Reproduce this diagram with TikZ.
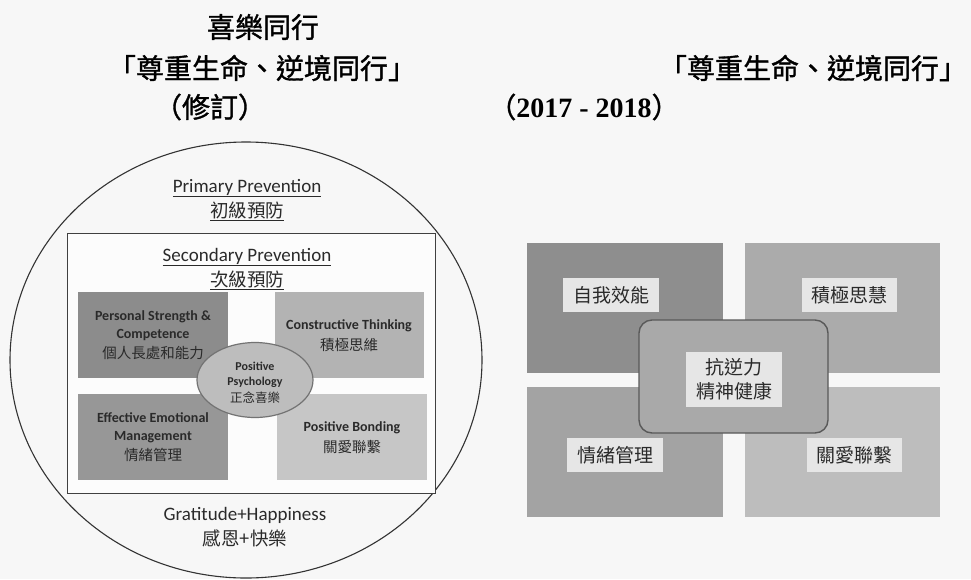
\documentclass[tikz,border=0pt]{standalone}
\usepackage{fontspec}
\setmainfont{Carlito}
\newfontfamily\cjk{Noto Sans CJK TC}
\newfontfamily\cjkb[FakeBold=1.2]{Noto Sans CJK TC}
\newfontfamily\yearfont{Liberation Serif}
\usetikzlibrary{shapes.geometric}
\definecolor{bgc}{HTML}{F7F7F7}
\definecolor{lTL}{HTML}{8C8C8C}
\definecolor{lBL}{HTML}{979797}
\definecolor{lTR}{HTML}{B3B3B3}
\definecolor{lBR}{HTML}{C6C6C6}
\definecolor{ellf}{HTML}{BDBDBD}
\definecolor{rTL}{HTML}{8E8E8E}
\definecolor{rTR}{HTML}{ABABAB}
\definecolor{rBL}{HTML}{A3A3A3}
\definecolor{rBR}{HTML}{BDBDBD}
\definecolor{rC}{HTML}{A9A9A9}
\definecolor{lab}{HTML}{E6E6E6}
\definecolor{txt}{HTML}{2A2A2A}
\tikzset{
  box/.style={rectangle, inner sep=0pt, minimum width=#1},
  title/.style={font=\cjkb\fontsize{28}{30}\selectfont, inner sep=0pt},
  eng/.style={font=\fontsize{19}{21}\selectfont, inner sep=0pt, text=txt},
  engc/.style={font=\cjk\fontsize{18.5}{20}\selectfont, inner sep=0pt, text=txt},
  bxe/.style={font=\bfseries\fontsize{14}{16}\selectfont, inner sep=0pt, text=txt},
  bxc/.style={font=\cjk\fontsize{14.5}{16}\selectfont, inner sep=0pt, text=txt},
  ele/.style={font=\bfseries\fontsize{12}{13}\selectfont, inner sep=0pt, text=txt},
  elc/.style={font=\cjk\fontsize{12.5}{13}\selectfont, inner sep=0pt, text=txt},
  rlab/.style={rectangle, fill=lab, inner sep=0pt, minimum width=96pt, minimum height=34pt, font=\cjk\fontsize{19}{22}\selectfont, text=txt},
}
\begin{document}
\begin{tikzpicture}[x=1pt,y=-1pt]
\fill[bgc] (0,0) rectangle (971,579);
\useasboundingbox (0,0) rectangle (971,579);
% titles
\node[title] (t1) at (263,27) {喜樂同行};
\node[title] (t2) at (262,68) {「尊重生命、逆境同行」};
\node[title] (t3) at (210,107) {（修訂）};
\node[title] (t4) at (813,68) {「尊重生命、逆境同行」};
\node[inner sep=0pt] (t5) at (584,107) {\cjkb\fontsize{28}{30}\selectfont （\yearfont\bfseries 2017 - 2018\cjkb\mdseries ）};
% left diagram
\node[ellipse, draw=black!80, line width=1.1pt, minimum width=472pt, minimum height=436pt, inner sep=0pt] (circ) at (246,360) {};
\node[rectangle, draw=black!75, line width=1pt, fill=white!60!bgc, minimum width=368pt, minimum height=260pt, inner sep=0pt] (inner) at (251,363) {};
\node[eng] (pp) at (247,188) {\underline{Primary Prevention}};
\node[engc] (ppc) at (247,211) {\underline{初級預防}};
\node[eng] (sp) at (247,257) {\underline{Secondary Prevention}};
\node[engc] (spc) at (247,280) {\underline{次級預防}};
\node[box=150pt, minimum height=86pt, fill=lTL] (ltl) at (153,335) {};
\node[box=149pt, minimum height=86pt, fill=lTR] (ltr) at (349.5,335) {};
\node[box=150pt, minimum height=86pt, fill=lBL] (lbl) at (153,437) {};
\node[box=150pt, minimum height=86pt, fill=lBR] (lbr) at (352,437) {};
\node[bxe] (a1) at (153,317) {Personal Strength \&};
\node[bxe] (a2) at (153,335) {Competence};
\node[bxc] (a3) at (153,353) {個人長處和能力};
\node[bxe] (b1) at (349,326) {Constructive Thinking};
\node[bxc] (b2) at (349,345) {積極思維};
\node[bxe] (c1) at (153,418) {Effective Emotional};
\node[bxe] (c2) at (153,437) {Management};
\node[bxc] (c3) at (153,455) {情緒管理};
\node[bxe] (d1) at (352,428) {Positive Bonding};
\node[bxc] (d2) at (352,447) {關愛聯繫};
\node[ellipse, draw=black!55, line width=1.2pt, fill=ellf, minimum width=116pt, minimum height=75pt, inner sep=0pt] (pe) at (255,380) {};
\node[ele] (e1) at (255,366) {Positive};
\node[ele] (e2) at (255,382) {Psychology};
\node[elc] (e3) at (255,398) {正念喜樂};
\node[eng] (g1) at (245,515) {Gratitude+Happiness};
\node[engc] (g2) at (245,538) {感恩+快樂};
% right diagram
\node[box=196pt, minimum height=130pt, fill=rTL] (rtl) at (625,308) {};
\node[box=195pt, minimum height=130pt, fill=rTR] (rtr) at (842.5,308) {};
\node[box=196pt, minimum height=130pt, fill=rBL] (rbl) at (625,452) {};
\node[box=195pt, minimum height=130pt, fill=rBR] (rbr) at (842.5,452) {};
\node[rectangle, rounded corners=13pt, draw=black!65, line width=1.4pt, fill=rC, minimum width=189pt, minimum height=113pt, inner sep=0pt] (rc) at (733.5,376.5) {};
\node[rlab] (l1) at (611,295) {自我效能};
\node[rlab, minimum width=95pt] (l2) at (849.5,295) {積極思慧};
\node[rlab] (l3) at (615,455) {情緒管理};
\node[rlab, minimum width=95pt] (l4) at (854.5,455) {關愛聯繫};
\node[rlab, minimum height=55pt, align=center, font=\cjk\fontsize{19}{24}\selectfont] (l5) at (734,379.5) {抗逆力\\精神健康};
\end{tikzpicture}
\end{document}
